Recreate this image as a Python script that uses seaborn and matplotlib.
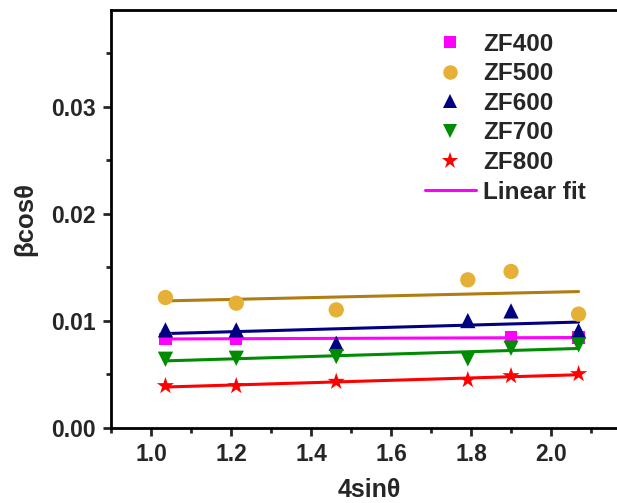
import numpy as np
import pandas as pd
import matplotlib
matplotlib.use("Agg")
import matplotlib.pyplot as plt
import seaborn as sns
from matplotlib.lines import Line2D
from matplotlib.ticker import MultipleLocator

# 4sin(theta) positions of the peaks
x_all = [1.036, 1.213, 1.463, 1.792, 1.900, 2.069]
x_zf400 = [1.036, 1.213, 1.900, 2.069]

# beta*cos(theta) per sample
zf400 = [0.00832, 0.00832, 0.00844, 0.00844]
zf500 = [0.01218, 0.01165, 0.01103, 0.01383, 0.01461, 0.01063]
zf600 = [0.00916, 0.00916, 0.00791, 0.01003, 0.01093, 0.00909]
zf700 = [0.00642, 0.00651, 0.00667, 0.00645, 0.00745, 0.00776]
zf800 = [0.00393, 0.00393, 0.00433, 0.00449, 0.00486, 0.00505]

samples = ["ZF400", "ZF500", "ZF600", "ZF700", "ZF800"]
xs = [x_zf400, x_all, x_all, x_all, x_all]
ys = [zf400, zf500, zf600, zf700, zf800]
markers = ["s", "o", "^", "v", "*"]
marker_sizes = [9, 11, 11, 11, 13]
point_colors = ["#FF00FF", "#E6AF35", "#000080", "#008C00", "#FF0000"]
line_colors = ["#FF00FF", "#B07D12", "#000080", "#008C00", "#FF0000"]

sns.set_style("ticks")
plt.rcParams["font.family"] = ["Liberation Sans", "DejaVu Sans"]
plt.rcParams["font.weight"] = "bold"

fig = plt.figure(figsize=(6.17, 5.03), dpi=100)
ax = fig.add_axes([0.180, 0.149, 0.82, 0.831])

for name, x, y, m, ms, pc, lc in zip(samples, xs, ys, markers, marker_sizes,
                                      point_colors, line_colors):
    df = pd.DataFrame({"x": x, "y": y})
    sns.regplot(data=df, x="x", y="y", ax=ax, ci=None, scatter=False,
                truncate=True, color=lc, line_kws={"lw": 2.2, "zorder": 2})
    sns.scatterplot(data=df, x="x", y="y", ax=ax, marker=m, s=ms ** 2,
                    color=pc, edgecolor="none", linewidth=0, zorder=3)

ax.set_xlim(0.9, 2.165)
ax.set_ylim(0, 0.039)
ax.xaxis.set_major_locator(MultipleLocator(0.2))
ax.xaxis.set_minor_locator(MultipleLocator(0.1))
ax.yaxis.set_major_locator(MultipleLocator(0.01))
ax.yaxis.set_minor_locator(MultipleLocator(0.005))
ax.set_xticks([1.0, 1.2, 1.4, 1.6, 1.8, 2.0])
ax.set_xticklabels(["1.0", "1.2", "1.4", "1.6", "1.8", "2.0"])
ax.set_yticks([0.0, 0.01, 0.02, 0.03])
ax.set_yticklabels(["0.00", "0.01", "0.02", "0.03"])

ax.tick_params(axis="both", which="major", direction="out", length=6,
               width=2, labelsize=16.5, pad=5)
ax.tick_params(axis="both", which="minor", direction="out", length=3.5,
               width=2)
for lab in ax.get_xticklabels() + ax.get_yticklabels():
    lab.set_fontweight("bold")

for side in ["left", "bottom", "top"]:
    ax.spines[side].set_linewidth(2)
    ax.spines[side].set_color("black")
ax.spines["right"].set_visible(False)

ax.set_xlabel("4sin\u03b8", fontsize=18, fontweight="bold")
ax.set_ylabel("\u03b2cos\u03b8", fontsize=18.5, fontweight="bold")
ax.yaxis.set_label_coords(-0.145, 0.5)
ax.xaxis.set_label_coords(0.511, -0.12)

handles = [Line2D([], [], ls="none", marker=m, ms=ms * 0.95, color=pc,
                  markeredgewidth=0)
           for m, ms, pc in zip(markers, marker_sizes, point_colors)]
handles.append(Line2D([], [], color="#FF00FF", lw=2.2))
leg = ax.legend(handles, samples + ["Linear fit"], loc="upper right",
                bbox_to_anchor=(0.982, 0.998), frameon=False,
                handlelength=2.1, labelspacing=0.27, handletextpad=0.3,
                prop={"weight": "bold", "size": 17.5})

fig.savefig("out.png", dpi=100)
